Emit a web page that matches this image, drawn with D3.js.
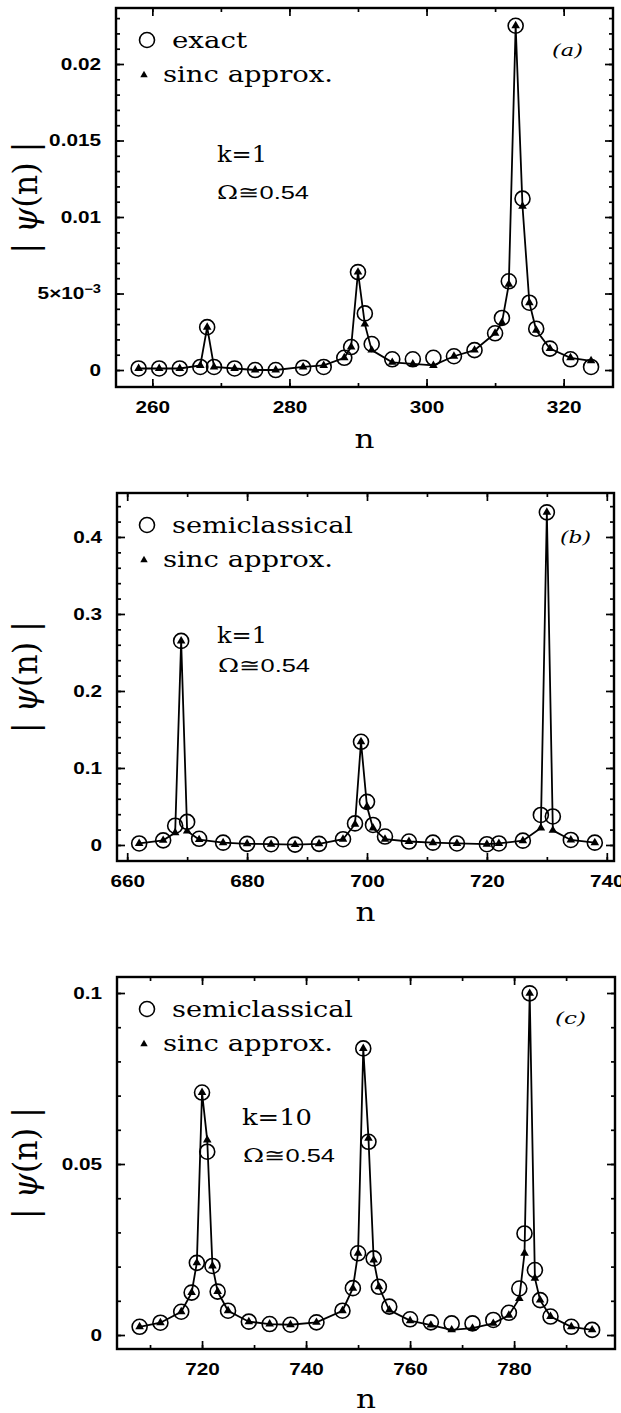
<!DOCTYPE html>
<html>
<head>
<meta charset="utf-8">
<script src="https://cdn.jsdelivr.net/npm/d3@7"></script>
<style>
  body { margin: 0; background: #fff; }
  svg { display: block; background: #fff; }
  .tick text { font-family: "Liberation Sans", Arial, sans-serif; font-weight: bold; font-size: 17px; fill: #000; }
  .serif { font-family: "DejaVu Serif", serif; fill: #000; }
</style>
</head>
<body>
<svg id="fig" width="621" height="1413"></svg>
<script>
// ---- panel (a): exact vs sinc, k=1
const nA = [258, 261, 264, 267, 268, 269, 272, 275, 278, 282, 285, 288, 289, 290, 291, 292, 295, 298, 301, 304, 307, 310, 311, 312, 313, 314, 315, 316, 318, 321, 324];
const exactA = [0.0001, 0.0001, 0.0001, 0.0002, 0.0028, 0.0002, 0.0001, 0.0000, 0.0000, 0.00015, 0.0002, 0.0008, 0.0015, 0.0064, 0.0037, 0.0017, 0.0007, 0.0007, 0.0008, 0.0009, 0.0013, 0.0024, 0.0034, 0.0058, 0.0225, 0.0112, 0.0044, 0.0027, 0.0014, 0.0007, 0.0002];
const sincA = [0.0001, 0.0001, 0.0001, 0.0003, 0.0028, 0.0002, 0.0001, 0.0000, 0.0000, 0.0002, 0.0003, 0.0008, 0.0015, 0.0064, 0.0030, 0.0013, 0.0005, 0.0004, 0.0003, 0.0009, 0.0013, 0.0024, 0.0031, 0.0056, 0.0225, 0.0107, 0.0044, 0.0026, 0.0014, 0.0008, 0.0006];
const xTicksA = [260, 280, 300, 320];
const yTicksA = [0, 0.005, 0.01, 0.015, 0.02];
const yLabelsA = ["0", "5×10", "0.01", "0.015", "0.02"];

// ---- panel (b): semiclassical vs sinc, k=1
const nB = [662, 666, 668, 669, 670, 672, 676, 680, 684, 688, 692, 696, 698, 699, 700, 701, 703, 707, 711, 715, 720, 722, 726, 729, 730, 731, 734, 738];
const semiB = [0.002, 0.006, 0.025, 0.265, 0.030, 0.008, 0.003, 0.0015, 0.001, 0.0005, 0.0015, 0.0075, 0.028, 0.134, 0.056, 0.026, 0.011, 0.0045, 0.003, 0.002, 0.001, 0.002, 0.0056, 0.039, 0.432, 0.037, 0.0065, 0.003];
const sincB = [0.002, 0.006, 0.016, 0.265, 0.018, 0.007, 0.003, 0.0015, 0.001, 0.0005, 0.0015, 0.0075, 0.027, 0.134, 0.050, 0.022, 0.0075, 0.0045, 0.003, 0.002, 0.001, 0.002, 0.0056, 0.022, 0.432, 0.019, 0.0065, 0.003];
const xTicksB = [660, 680, 700, 720, 740];
const yTicksB = [0, 0.1, 0.2, 0.3, 0.4];
const yLabelsB = ["0", "0.1", "0.2", "0.3", "0.4"];

// ---- panel (c): semiclassical vs sinc, k=10
const nC = [708, 712, 716, 718, 719, 720, 721, 722, 723, 725, 729, 733, 737, 742, 747, 749, 750, 751, 752, 753, 754, 756, 760, 764, 768, 772, 776, 779, 781, 782, 783, 784, 785, 787, 791, 795];
const semiC = [0.0024, 0.0036, 0.0068, 0.0124, 0.0211, 0.0709, 0.0536, 0.0202, 0.0127, 0.0071, 0.0039, 0.0032, 0.0030, 0.0037, 0.0071, 0.0137, 0.0239, 0.0838, 0.0565, 0.0224, 0.0141, 0.0083, 0.0046, 0.0037, 0.0034, 0.0034, 0.0044, 0.0065, 0.0136, 0.0297, 0.0999, 0.0190, 0.0102, 0.0054, 0.0024, 0.0015];
const sincC = [0.0024, 0.0036, 0.0068, 0.0124, 0.0211, 0.0709, 0.0570, 0.0202, 0.0127, 0.0071, 0.0039, 0.0032, 0.0030, 0.0037, 0.0071, 0.0137, 0.0239, 0.0838, 0.0575, 0.0219, 0.0141, 0.0073, 0.0042, 0.0029, 0.0015, 0.0020, 0.0034, 0.0058, 0.0107, 0.0239, 0.0999, 0.0166, 0.0102, 0.0054, 0.0024, 0.0015];
const xTicksC = [720, 740, 760, 780];
const yTicksC = [0, 0.05, 0.1];
const yLabelsC = ["0", "0.05", "0.1"];

const panels = [
  { n: nA, ref: exactA, sinc: sincA, refName: "exact", tag: "a", k: "k=1",
    box: { left: 116, top: 8, right: 613, bottom: 387 },
    xDomain: [254.7, 327.2], yDomain: [-0.00111, 0.02366],
    xTicks: xTicksA, xMinor: d3.range(260, 330, 10),
    yTicks: yTicksA, yLabels: yLabelsA, yMinor: d3.range(0, 0.0236, 0.001),
    kPos: [217, 162, 50], omPos: [217, 199], tagPos: [552, 56], nY: 448, refLen: 75 },
  { n: nB, ref: semiB, sinc: sincB, refName: "semiclassical", tag: "b", k: "k=1",
    box: { left: 117, top: 493, right: 614, bottom: 861 },
    xDomain: [658.3, 741.2], yDomain: [-0.0208, 0.4571],
    xTicks: xTicksB, xMinor: d3.range(660, 741, 10),
    yTicks: yTicksB, yLabels: yLabelsB, yMinor: d3.range(0, 0.456, 0.02),
    kPos: [217, 643, 50], omPos: [218, 672], tagPos: [560, 543], nY: 921, refLen: 181 },
  { n: nC, ref: semiC, sinc: sincC, refName: "semiclassical", tag: "c", k: "k=10",
    box: { left: 117, top: 977, right: 615, bottom: 1349 },
    xDomain: [703.65, 799.4], yDomain: [-0.00409, 0.10468],
    xTicks: xTicksC, xMinor: d3.range(710, 800, 10),
    yTicks: yTicksC, yLabels: yLabelsC, yMinor: d3.range(0, 0.1046, 0.01),
    kPos: [242, 1125, 70], omPos: [243, 1162], tagPos: [555, 1024], nY: 1408, refLen: 181 }
];

const svg = d3.select("#fig");

function stretch(sel, f) {
  sel.each(function() {
    const len = this.getComputedTextLength();
    d3.select(this).attr("textLength", len * f).attr("lengthAdjust", "spacingAndGlyphs");
  });
}

function drawPanel(p) {
  const b = p.box;
  const g = svg.append("g");
  const x = d3.scaleLinear().domain(p.xDomain).range([b.left, b.right]);
  const y = d3.scaleLinear().domain(p.yDomain).range([b.bottom, b.top]);

  // minor ticks on all four sides
  g.append("g").attr("transform", `translate(0,${b.bottom})`)
    .call(d3.axisBottom(x).tickValues(p.xMinor).tickSize(-4).tickFormat(""));
  g.append("g").attr("transform", `translate(0,${b.top})`)
    .call(d3.axisTop(x).tickValues(p.xMinor).tickSize(-4).tickFormat(""));
  g.append("g").attr("transform", `translate(${b.left},0)`)
    .call(d3.axisLeft(y).tickValues(p.yMinor).tickSize(-4).tickFormat(""));
  g.append("g").attr("transform", `translate(${b.right},0)`)
    .call(d3.axisRight(y).tickValues(p.yMinor).tickSize(-4).tickFormat(""));

  // major ticks
  const xb = g.append("g").attr("transform", `translate(0,${b.bottom})`)
    .call(d3.axisBottom(x).tickValues(p.xTicks).tickSize(-8).tickPadding(14).tickFormat(d3.format("d")));
  g.append("g").attr("transform", `translate(0,${b.top})`)
    .call(d3.axisTop(x).tickValues(p.xTicks).tickSize(-8).tickFormat(""));
  const yl = g.append("g").attr("transform", `translate(${b.left},0)`)
    .call(d3.axisLeft(y).tickValues(p.yTicks).tickSize(-8).tickPadding(15).tickFormat((d, i) => p.yLabels[i]));
  g.append("g").attr("transform", `translate(${b.right},0)`)
    .call(d3.axisRight(y).tickValues(p.yTicks).tickSize(-8).tickFormat(""));

  g.selectAll(".domain").remove();
  g.selectAll(".tick line").attr("stroke", "#000").attr("stroke-width", 1.7);

  // 5x10^-3 superscript
  yl.selectAll(".tick text").filter(d => d === 0.005)
    .append("tspan").attr("dy", "-0.5em").attr("font-size", "12px").text("−3");

  stretch(xb.selectAll(".tick text"), 1.22);
  stretch(yl.selectAll(".tick text"), 1.22);

  // frame
  g.append("rect")
    .attr("x", b.left).attr("y", b.top)
    .attr("width", b.right - b.left).attr("height", b.bottom - b.top)
    .attr("fill", "none").attr("stroke", "#000").attr("stroke-width", 2.4);

  const pts = p.n.map((n, i) => ({ n: n, ref: p.ref[i], sinc: p.sinc[i] }));

  // connecting line through the sinc points
  const line = d3.line().x(d => x(d.n)).y(d => y(d.sinc));
  g.append("path").datum(pts)
    .attr("d", line).attr("fill", "none").attr("stroke", "#000").attr("stroke-width", 1.8);

  // open circles: exact / semiclassical
  g.append("g").selectAll("circle").data(pts).join("circle")
    .attr("cx", d => x(d.n)).attr("cy", d => y(d.ref)).attr("r", 7.5)
    .attr("fill", "none").attr("stroke", "#000").attr("stroke-width", 1.6);

  // filled triangles: sinc approx.
  const tri = d3.symbol().type(d3.symbolTriangle).size(32);
  g.append("g").selectAll("path").data(pts).join("path")
    .attr("d", tri)
    .attr("transform", d => `translate(${x(d.n)},${y(d.sinc)})`)
    .attr("fill", "#000");

  // legend
  const ly = b.top;
  g.append("circle").attr("cx", 147).attr("cy", ly + 32).attr("r", 7.5)
    .attr("fill", "none").attr("stroke", "#000").attr("stroke-width", 1.6);
  g.append("text").attr("class", "serif").attr("x", 172).attr("y", ly + 40)
    .attr("font-size", 23).attr("textLength", p.refLen).attr("lengthAdjust", "spacingAndGlyphs")
    .text(p.refName);
  g.append("path").attr("d", d3.symbol().type(d3.symbolTriangle).size(24))
    .attr("transform", `translate(144,${ly + 67})`).attr("fill", "#000");
  g.append("text").attr("class", "serif").attr("x", 163).attr("y", ly + 74)
    .attr("font-size", 23).attr("textLength", 170).attr("lengthAdjust", "spacingAndGlyphs")
    .text("sinc approx.");

  // k and Omega annotations
  g.append("text").attr("class", "serif").attr("x", p.kPos[0]).attr("y", p.kPos[1])
    .attr("font-size", 22).attr("textLength", p.kPos[2]).attr("lengthAdjust", "spacingAndGlyphs")
    .text(p.k);
  const om = g.append("text").attr("x", p.omPos[0]).attr("y", p.omPos[1])
    .attr("textLength", 92).attr("lengthAdjust", "spacingAndGlyphs");
  om.append("tspan").attr("class", "serif").attr("font-size", 19).text("Ω≅");
  om.append("tspan").attr("font-family", "Liberation Sans, Arial, sans-serif").attr("font-size", 19).text("0.54");

  // panel tag
  g.append("text").attr("class", "serif").attr("x", p.tagPos[0]).attr("y", p.tagPos[1])
    .attr("font-size", 17).attr("font-style", "italic")
    .attr("textLength", 31).attr("lengthAdjust", "spacingAndGlyphs")
    .text(`(${p.tag})`);

  // x title
  g.append("text").attr("class", "serif").attr("x", (b.left + b.right) / 2).attr("y", p.nY)
    .attr("text-anchor", "middle").attr("font-size", 26)
    .attr("textLength", 20).attr("lengthAdjust", "spacingAndGlyphs")
    .text("n");

  // y title
  const cy = (b.top + b.bottom) / 2;
  const yt = g.append("text").attr("class", "serif")
    .attr("transform", `translate(37,${cy}) rotate(-90)`)
    .attr("text-anchor", "middle").attr("font-size", 33)
    .attr("textLength", 112).attr("lengthAdjust", "spacingAndGlyphs");
  yt.append("tspan").text("| ");
  yt.append("tspan").attr("font-style", "italic").text("ψ");
  yt.append("tspan").text("(n) |");
}

panels.forEach(drawPanel);
</script>
</body>
</html>
